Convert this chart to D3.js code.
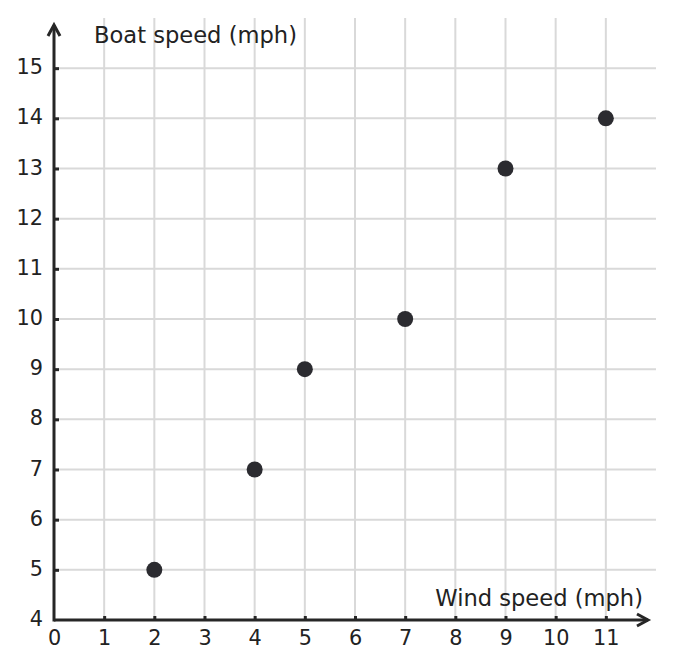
<!DOCTYPE html>
<html><head><meta charset="utf-8">
<script src="https://cdn.jsdelivr.net/npm/d3@7"></script>
<style>
html,body{margin:0;padding:0;background:#fff;}
svg{display:block;font-family:"DejaVu Sans",sans-serif;}
</style></head>
<body>
<svg id="chart" width="674" height="668"></svg>
<script>
const windSpeed = [2, 4, 5, 7, 9, 11];
const boatSpeed = [5, 7, 9, 10, 13, 14];
const xTicks = [0,1,2,3,4,5,6,7,8,9,10,11];
const yTicks = [4,5,6,7,8,9,10,11,12,13,14,15];
const xGrid = [1,2,3,4,5,6,7,8,9,10,11];
const yGrid = [5,6,7,8,9,10,11,12,13,14,15];
const xTitle = "Wind speed (mph)";
const yTitle = "Boat speed (mph)";

const svg = d3.select("#chart");
const x = d3.scaleLinear().domain([0, 12]).range([54, 656]);
const y = d3.scaleLinear().domain([4, 16]).range([620, 18]);
const axisColor = "#262626";
const gridColor = "#d9d9d9";

// grid
svg.append("g").selectAll("line").data(xGrid).join("line")
  .attr("x1", d => x(d)).attr("x2", d => x(d))
  .attr("y1", y(4)).attr("y2", y(16))
  .attr("stroke", gridColor).attr("stroke-width", 2);
svg.append("g").selectAll("line").data(yGrid).join("line")
  .attr("x1", x(0)).attr("x2", x(12))
  .attr("y1", d => y(d)).attr("y2", d => y(d))
  .attr("stroke", gridColor).attr("stroke-width", 2);

// axes
const gx = svg.append("g").attr("transform", `translate(0,${y(4)})`)
  .call(d3.axisBottom(x).tickValues(xTicks).tickSizeInner(-4).tickSizeOuter(0).tickPadding(10));
const gy = svg.append("g").attr("transform", `translate(${x(0)},0)`)
  .call(d3.axisLeft(y).tickValues(yTicks).tickSizeInner(-5).tickSizeOuter(0).tickPadding(11));
[gx, gy].forEach(g => {
  g.select(".domain").remove();
  g.selectAll(".tick line").attr("stroke", axisColor).attr("stroke-width", 3);
  g.selectAll(".tick text").attr("fill", "#222")
    .style("font-size", "20.8px").style("font-family", "'DejaVu Sans', sans-serif");
});
gy.selectAll(".tick text").attr("dy", "0.27em");
gx.selectAll(".tick").filter(d => d === 0).select("line").remove();
gy.selectAll(".tick").filter(d => d === 4).select("line").remove();

// axis lines with arrows
const ax = svg.append("g").attr("stroke", axisColor).attr("stroke-width", 3)
  .attr("fill", "none").attr("stroke-linecap", "butt");
ax.append("line").attr("x1", x(0)).attr("x2", x(0)).attr("y1", y(4) + 1.5).attr("y2", 25);
ax.append("line").attr("x1", x(0)).attr("x2", 648).attr("y1", y(4)).attr("y2", y(4));
ax.append("path").attr("d", `M${x(0)-6},36 L${x(0)},25 L${x(0)+6},36`).attr("stroke-linejoin", "miter");
ax.append("path").attr("d", `M637,${y(4)-6} L648,${y(4)} L637,${y(4)+6}`).attr("stroke-linejoin", "miter");

// titles
svg.append("text").attr("x", 94).attr("y", 43).attr("fill", "#222")
  .style("font-size", "22.6px").text(yTitle);
svg.append("text").attr("x", 643).attr("y", 606).attr("text-anchor", "end").attr("fill", "#222")
  .style("font-size", "22.6px").text(xTitle);

// points
svg.append("g").selectAll("circle").data(windSpeed.map((w, i) => [w, boatSpeed[i]])).join("circle")
  .attr("cx", d => x(d[0])).attr("cy", d => y(d[1])).attr("r", 8)
  .attr("fill", "#2b2b30");
</script>
</body></html>
